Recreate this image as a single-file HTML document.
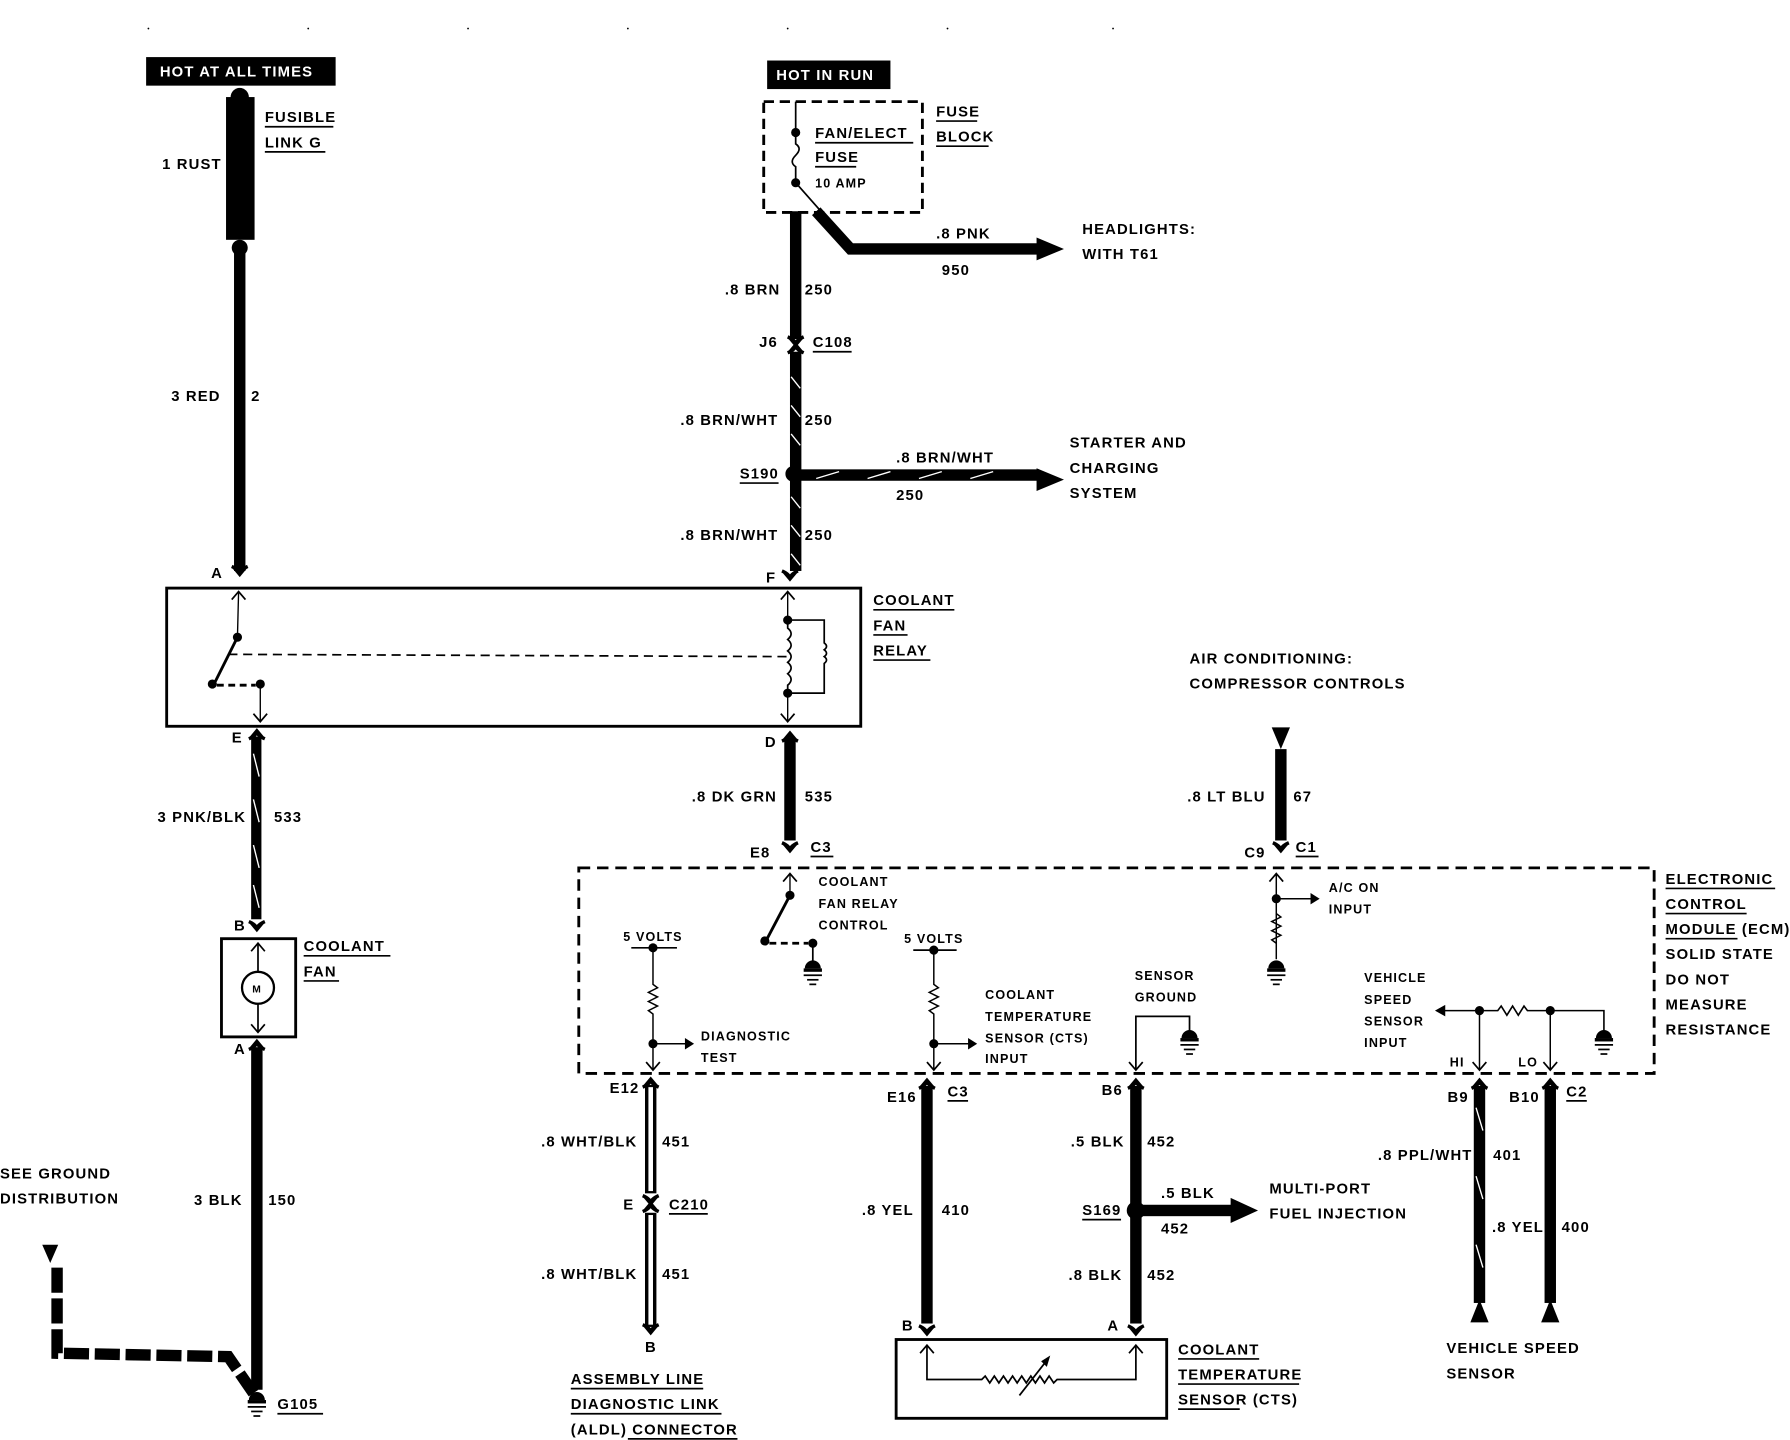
<!DOCTYPE html>
<html><head><meta charset="utf-8"><style>
html,body{margin:0;padding:0;background:#fff;}
svg{display:block;}
text{font-family:"Liberation Sans Narrow","Liberation Sans",sans-serif;font-weight:bold;font-size:13px;fill:#000;letter-spacing:1px;}
.s{font-size:11px;}
</style></head><body>
<svg width="1790" height="1440" viewBox="0 0 1568 1261" preserveAspectRatio="none" xmlns="http://www.w3.org/2000/svg">
<defs>
<g id="conn"><path d="M-7,-7 Q0,-4 0,0 Q0,-4 7,-7" fill="none" stroke="#000" stroke-width="3"/><path d="M-5,-6 L0,0 L5,-6" fill="none" stroke="#000" stroke-width="3"/></g>
<g id="connU"><path d="M-7,7 Q0,4 0,0 Q0,4 7,7" fill="none" stroke="#000" stroke-width="3"/><path d="M-5,6 L0,0 L5,6" fill="none" stroke="#000" stroke-width="3"/></g>
<g id="gnd"><path d="M-7,6 A7,7 0 0 1 7,6 Z" fill="#000"/><rect x="-8" y="6" width="16" height="3" fill="#000"/><line x1="-8" y1="12" x2="8" y2="12" stroke="#000" stroke-width="1.5"/><line x1="-5" y1="16" x2="5" y2="16" stroke="#000" stroke-width="1.5"/><line x1="-3" y1="20" x2="3" y2="20" stroke="#000" stroke-width="1.5"/></g>
<g id="arrU"><path d="M-6,7 L0,0 L6,7" fill="none" stroke="#000" stroke-width="1.5"/></g>
<g id="arrD"><path d="M-6,-7 L0,0 L6,-7" fill="none" stroke="#000" stroke-width="1.5"/></g>
</defs>
<g fill="#000"><circle cx="130" cy="25" r="0.8"/><circle cx="270" cy="25" r="0.8"/><circle cx="410" cy="25" r="0.8"/><circle cx="550" cy="25" r="0.8"/><circle cx="690" cy="25" r="0.8"/><circle cx="830" cy="25" r="0.8"/><circle cx="975" cy="25" r="0.8"/></g>

<!-- HOT AT ALL TIMES -->
<rect x="128" y="50" width="166" height="25" fill="#000"/>
<text x="140" y="67" style="fill:#fff">HOT AT ALL TIMES</text>
<rect x="198" y="85" width="25" height="125" fill="#000"/>
<circle cx="210" cy="85" r="8" fill="#000"/>
<circle cx="210" cy="217" r="7" fill="#000"/>
<text x="232" y="107">FUSIBLE</text><line x1="232" y1="111" x2="292" y2="111" stroke="#000" stroke-width="1.5"/>
<text x="232" y="129">LINK G</text><line x1="232" y1="133" x2="285" y2="133" stroke="#000" stroke-width="1.5"/>
<text x="142" y="148">1 RUST</text>
<rect x="205" y="220" width="10" height="280" fill="#000"/>
<text x="150" y="351">3 RED</text><text x="220" y="351">2</text>
<use href="#conn" x="210" y="503"/><text x="185" y="506">A</text>

<!-- HOT IN RUN -->
<rect x="672" y="53" width="108" height="25" fill="#000"/>
<text x="680" y="70" style="fill:#fff">HOT IN RUN</text>
<rect x="669" y="89" width="139" height="97" fill="none" stroke="#000" stroke-width="2.5" stroke-dasharray="9,5"/>
<line x1="697" y1="89" x2="697" y2="116" stroke="#000" stroke-width="1.5"/>
<circle cx="697" cy="116" r="4" fill="#000"/>
<path d="M697,116 L697,126 Q703,130 697,136 Q691,142 697,146 L697,160" fill="none" stroke="#000" stroke-width="1.5"/>
<circle cx="697" cy="160" r="4" fill="#000"/>
<line x1="697" y1="160" x2="720" y2="186" stroke="#000" stroke-width="1.5"/>
<text x="714" y="121">FAN/ELECT</text><line x1="714" y1="125" x2="800" y2="125" stroke="#000" stroke-width="1.5"/>
<text x="714" y="142">FUSE</text><line x1="714" y1="146" x2="750" y2="146" stroke="#000" stroke-width="1.5"/>
<text x="714" y="164" class="s">10 AMP</text>
<text x="820" y="102">FUSE</text><line x1="820" y1="106" x2="856" y2="106" stroke="#000" stroke-width="1.5"/>
<text x="820" y="124">BLOCK</text><line x1="820" y1="128" x2="866" y2="128" stroke="#000" stroke-width="1.5"/>
<rect x="692" y="185" width="10" height="112" fill="#000"/>
<path d="M715,185 L745,218 L910,218" fill="none" stroke="#000" stroke-width="10"/>
<path d="M908,208 L932,218 L908,228 Z" fill="#000"/>
<text x="820" y="209">.8 PNK</text><text x="825" y="241">950</text>
<text x="948" y="205">HEADLIGHTS:</text><text x="948" y="227">WITH T61</text>
<text x="635" y="258">.8 BRN</text><text x="705" y="258">250</text>
<use href="#conn" x="697" y="302"/><use href="#connU" x="697" y="302"/>
<text x="665" y="304">J6</text><text x="712" y="304">C108</text><line x1="712" y1="308" x2="746" y2="308" stroke="#000" stroke-width="1.5"/>
<rect x="692" y="308" width="10" height="192" fill="#000"/>
<g stroke="#fff" stroke-width="1.2"><line x1="693" y1="330" x2="701" y2="340"/><line x1="693" y1="355" x2="701" y2="365"/><line x1="693" y1="380" x2="701" y2="390"/><line x1="693" y1="435" x2="701" y2="445"/><line x1="693" y1="460" x2="701" y2="470"/><line x1="693" y1="485" x2="701" y2="495"/></g>
<text x="596" y="372">.8 BRN/WHT</text><text x="705" y="372">250</text>
<circle cx="695" cy="415" r="7" fill="#000"/>
<text x="648" y="419">S190</text><line x1="648" y1="423" x2="682" y2="423" stroke="#000" stroke-width="1.5"/>
<rect x="700" y="411" width="210" height="10" fill="#000"/>
<path d="M908,410 L932,420 L908,430 Z" fill="#000"/>
<g stroke="#fff" stroke-width="1.2"><line x1="715" y1="419" x2="735" y2="413"/><line x1="760" y1="419" x2="780" y2="413"/><line x1="805" y1="419" x2="825" y2="413"/><line x1="850" y1="419" x2="870" y2="413"/></g>
<text x="785" y="405">.8 BRN/WHT</text><text x="785" y="438">250</text>
<text x="937" y="392">STARTER AND</text><text x="937" y="414">CHARGING</text><text x="937" y="436">SYSTEM</text>
<text x="596" y="473">.8 BRN/WHT</text><text x="705" y="473">250</text>
<use href="#conn" x="692" y="507"/><text x="671" y="510">F</text>

<!-- RELAY -->
<rect x="146" y="515" width="608" height="121" fill="none" stroke="#000" stroke-width="2.5"/>
<line x1="209" y1="518" x2="208" y2="558" stroke="#000" stroke-width="1.2"/><use href="#arrU" x="209" y="518"/>
<circle cx="208" cy="558" r="4" fill="#000"/>
<line x1="208" y1="558" x2="188" y2="598" stroke="#000" stroke-width="2.5"/>
<circle cx="186" cy="599" r="4" fill="#000"/>
<line x1="190" y1="600" x2="224" y2="600" stroke="#000" stroke-width="2.5" stroke-dasharray="6,4"/>
<circle cx="228" cy="599" r="4" fill="#000"/>
<line x1="228" y1="599" x2="228" y2="632" stroke="#000" stroke-width="1.2"/><use href="#arrD" x="228" y="632"/>
<line x1="200" y1="573" x2="690" y2="575" stroke="#000" stroke-width="1.5" stroke-dasharray="8,5"/>
<line x1="690" y1="518" x2="690" y2="543" stroke="#000" stroke-width="1.2"/><use href="#arrU" x="690" y="518"/>
<circle cx="690" cy="543" r="4" fill="#000"/>
<path d="M690,543 L690,550 q6,5 0,10 q6,5 0,10 q6,5 0,10 q6,5 0,10 q6,5 0,10 L690,607" fill="none" stroke="#000" stroke-width="1.5"/>
<circle cx="690" cy="607" r="4" fill="#000"/>
<line x1="690" y1="607" x2="690" y2="632" stroke="#000" stroke-width="1.2"/><use href="#arrD" x="690" y="632"/>
<path d="M690,543 L722,543 L722,563 q4,3 0,6 q4,3 0,6 q4,3 0,6 L722,607 L690,607" fill="none" stroke="#000" stroke-width="1.5"/>
<text x="765" y="530">COOLANT</text><line x1="765" y1="534" x2="836" y2="534" stroke="#000" stroke-width="1.5"/>
<text x="765" y="552">FAN</text><line x1="765" y1="556" x2="795" y2="556" stroke="#000" stroke-width="1.5"/>
<text x="765" y="574">RELAY</text><line x1="765" y1="578" x2="815" y2="578" stroke="#000" stroke-width="1.5"/>

<!-- left lower -->
<use href="#connU" x="225" y="640"/><text x="203" y="650">E</text>
<rect x="220" y="645" width="9" height="160" fill="#000"/>
<g stroke="#fff" stroke-width="1.2"><line x1="222" y1="660" x2="227" y2="680"/><line x1="222" y1="700" x2="227" y2="720"/><line x1="222" y1="740" x2="227" y2="760"/><line x1="222" y1="775" x2="227" y2="795"/></g>
<text x="138" y="720">3 PNK/BLK</text><text x="240" y="720">533</text>
<use href="#conn" x="225" y="814"/><text x="205" y="815">B</text>
<rect x="194" y="822" width="65" height="86" fill="none" stroke="#000" stroke-width="2.5"/>
<line x1="226" y1="826" x2="226" y2="904" stroke="#000" stroke-width="1.5"/>
<use href="#arrU" x="226" y="826"/><use href="#arrD" x="226" y="904"/>
<circle cx="226" cy="865" r="14" fill="#fff" stroke="#000" stroke-width="2"/>
<text x="221" y="869" class="s" style="font-size:9px">M</text>
<text x="266" y="833">COOLANT</text><line x1="266" y1="837" x2="342" y2="837" stroke="#000" stroke-width="1.5"/>
<text x="266" y="855">FAN</text><line x1="266" y1="859" x2="297" y2="859" stroke="#000" stroke-width="1.5"/>
<use href="#connU" x="225" y="912"/><text x="205" y="923">A</text>
<rect x="220" y="917" width="10" height="300" fill="#000"/>
<text x="170" y="1055">3 BLK</text><text x="235" y="1055">150</text>
<use href="#gnd" x="225" y="1220"/>
<text x="243" y="1234">G105</text><line x1="243" y1="1238" x2="283" y2="1238" stroke="#000" stroke-width="1.5"/>
<text x="0" y="1032">SEE GROUND</text><text x="0" y="1054">DISTRIBUTION</text>
<path d="M37,1090 L51,1090 L44,1106 Z" fill="#000"/>
<path d="M50,1110 L50,1185 L200,1188 L222,1220" fill="none" stroke="#000" stroke-width="10" stroke-dasharray="22,5"/>

<!-- DK GRN -->
<use href="#connU" x="692" y="642"/><text x="670" y="654">D</text>
<rect x="687" y="646" width="10" height="90" fill="#000"/>
<text x="606" y="702">.8 DK GRN</text><text x="705" y="702">535</text>
<use href="#conn" x="692" y="745"/><text x="657" y="751">E8</text>
<text x="710" y="746">C3</text><line x1="710" y1="750" x2="730" y2="750" stroke="#000" stroke-width="1.5"/>

<!-- AC -->
<text x="1042" y="581">AIR CONDITIONING:</text><text x="1042" y="603">COMPRESSOR CONTROLS</text>
<path d="M1114,637 L1130,637 L1122,656 Z" fill="#000"/>
<rect x="1117" y="656" width="10" height="80" fill="#000"/>
<text x="1040" y="702">.8 LT BLU</text><text x="1133" y="702">67</text>
<use href="#conn" x="1122" y="745"/><text x="1090" y="751">C9</text>
<text x="1135" y="746">C1</text><line x1="1135" y1="750" x2="1155" y2="750" stroke="#000" stroke-width="1.5"/>

<!-- ECM -->
<rect x="507" y="760" width="942" height="180" fill="none" stroke="#000" stroke-width="2.5" stroke-dasharray="10,6"/>
<text x="1459" y="774">ELECTRONIC</text><line x1="1459" y1="778" x2="1555" y2="778" stroke="#000" stroke-width="1.5"/>
<text x="1459" y="796">CONTROL</text><line x1="1459" y1="800" x2="1530" y2="800" stroke="#000" stroke-width="1.5"/>
<text x="1459" y="818">MODULE (ECM)</text><line x1="1459" y1="822" x2="1522" y2="822" stroke="#000" stroke-width="1.5"/>
<text x="1459" y="840">SOLID STATE</text><text x="1459" y="862">DO NOT</text><text x="1459" y="884">MEASURE</text><text x="1459" y="906">RESISTANCE</text>

<!-- fan relay control -->
<line x1="692" y1="765" x2="692" y2="784" stroke="#000" stroke-width="1.2"/><use href="#arrU" x="692" y="765"/>
<circle cx="692" cy="784" r="4" fill="#000"/>
<line x1="692" y1="784" x2="672" y2="822" stroke="#000" stroke-width="2.5"/>
<circle cx="670" cy="824" r="4" fill="#000"/>
<line x1="674" y1="826" x2="708" y2="826" stroke="#000" stroke-width="2.5" stroke-dasharray="6,4"/>
<circle cx="712" cy="826" r="4" fill="#000"/>
<line x1="712" y1="826" x2="712" y2="842" stroke="#000" stroke-width="1.5"/>
<use href="#gnd" x="712" y="842"/>
<text x="717" y="776" class="s">COOLANT</text><text x="717" y="795" class="s">FAN RELAY</text><text x="717" y="814" class="s">CONTROL</text>

<!-- diag -->
<text x="546" y="824" class="s">5 VOLTS</text>
<line x1="553" y1="830" x2="593" y2="830" stroke="#000" stroke-width="1.5"/><circle cx="572" cy="830" r="4" fill="#000"/>
<path d="M572,830 L572,862 l4,3 l-8,4 l8,4 l-8,4 l8,4 l-8,4 l4,3 L572,936" fill="none" stroke="#000" stroke-width="1.3"/>
<circle cx="572" cy="914" r="4" fill="#000"/>
<line x1="572" y1="914" x2="603" y2="914" stroke="#000" stroke-width="1.3"/><path d="M600,909 L608,914 L600,919 Z" fill="#000"/>
<use href="#arrD" x="572" y="937"/>
<text x="614" y="911" class="s">DIAGNOSTIC</text><text x="614" y="930" class="s">TEST</text>

<!-- cts in -->
<text x="792" y="826" class="s">5 VOLTS</text>
<line x1="800" y1="832" x2="838" y2="832" stroke="#000" stroke-width="1.5"/><circle cx="818" cy="832" r="4" fill="#000"/>
<path d="M818,832 L818,862 l4,3 l-8,4 l8,4 l-8,4 l8,4 l-8,4 l4,3 L818,936" fill="none" stroke="#000" stroke-width="1.3"/>
<circle cx="818" cy="914" r="4" fill="#000"/>
<line x1="818" y1="914" x2="850" y2="914" stroke="#000" stroke-width="1.3"/><path d="M848,909 L856,914 L848,919 Z" fill="#000"/>
<use href="#arrD" x="818" y="937"/>
<text x="863" y="875" class="s">COOLANT</text><text x="863" y="894" class="s">TEMPERATURE</text><text x="863" y="913" class="s">SENSOR (CTS)</text><text x="863" y="931" class="s">INPUT</text>

<!-- sensor ground -->
<text x="994" y="858" class="s">SENSOR</text><text x="994" y="877" class="s">GROUND</text>
<path d="M995,937 L995,890 L1042,890 L1042,903" fill="none" stroke="#000" stroke-width="1.5"/>
<use href="#arrD" x="995" y="937"/>
<use href="#gnd" x="1042" y="903"/>

<!-- AC on -->
<line x1="1118" y1="765" x2="1118" y2="840" stroke="#000" stroke-width="1.3"/><use href="#arrU" x="1118" y="765"/>
<circle cx="1118" cy="787" r="4" fill="#000"/>
<line x1="1118" y1="787" x2="1150" y2="787" stroke="#000" stroke-width="1.3"/><path d="M1148,782 L1156,787 L1148,792 Z" fill="#000"/>
<path d="M1118,800 l4,3 l-8,4 l8,4 l-8,4 l8,4 l-8,4 l4,3" fill="none" stroke="#000" stroke-width="1.3"/>
<use href="#gnd" x="1118" y="842"/>
<text x="1164" y="781" class="s">A/C ON</text><text x="1164" y="800" class="s">INPUT</text>

<!-- VSS input -->
<text x="1195" y="860" class="s">VEHICLE</text><text x="1195" y="879" class="s">SPEED</text><text x="1195" y="898" class="s">SENSOR</text><text x="1195" y="917" class="s">INPUT</text>
<path d="M1265,885 L1312,885 l3,-4 l5,8 l5,-8 l5,8 l5,-8 l3,4 L1405,885 L1405,903" fill="none" stroke="#000" stroke-width="1.4"/>
<path d="M1266,880 L1257,885 L1266,890 Z" fill="#000"/>
<circle cx="1296" cy="885" r="4" fill="#000"/><circle cx="1358" cy="885" r="4" fill="#000"/>
<line x1="1296" y1="885" x2="1296" y2="937" stroke="#000" stroke-width="1.3"/><use href="#arrD" x="1296" y="937"/>
<line x1="1358" y1="885" x2="1358" y2="937" stroke="#000" stroke-width="1.3"/><use href="#arrD" x="1358" y="937"/>
<use href="#gnd" x="1405" y="903"/>
<text x="1270" y="934" class="s">HI</text><text x="1330" y="934" class="s">LO</text>

<!-- bottom ALDL -->
<use href="#connU" x="570" y="945"/><text x="534" y="957">E12</text>
<rect x="565" y="950" width="10" height="95" fill="#000"/><rect x="568" y="952" width="4" height="91" fill="#fff"/>
<text x="474" y="1004">.8 WHT/BLK</text><text x="580" y="1004">451</text>
<use href="#conn" x="570" y="1054"/><use href="#connU" x="570" y="1054"/>
<text x="546" y="1059">E</text><text x="586" y="1059">C210</text><line x1="586" y1="1063" x2="620" y2="1063" stroke="#000" stroke-width="1.5"/>
<rect x="565" y="1062" width="10" height="100" fill="#000"/><rect x="568" y="1064" width="4" height="96" fill="#fff"/>
<text x="474" y="1120">.8 WHT/BLK</text><text x="580" y="1120">451</text>
<use href="#conn" x="570" y="1167"/><text x="565" y="1184">B</text>
<text x="500" y="1212">ASSEMBLY LINE</text><line x1="500" y1="1216" x2="616" y2="1216" stroke="#000" stroke-width="1.5"/>
<text x="500" y="1234">DIAGNOSTIC LINK</text><line x1="500" y1="1238" x2="632" y2="1238" stroke="#000" stroke-width="1.5"/>
<text x="500" y="1256">(ALDL) CONNECTOR</text><line x1="550" y1="1260" x2="646" y2="1260" stroke="#000" stroke-width="1.5"/>

<!-- CTS wire -->
<use href="#connU" x="812" y="946"/><text x="777" y="965">E16</text>
<text x="830" y="960">C3</text><line x1="830" y1="964" x2="848" y2="964" stroke="#000" stroke-width="1.5"/>
<rect x="807" y="951" width="10" height="208" fill="#000"/>
<text x="755" y="1064">.8 YEL</text><text x="825" y="1064">410</text>
<use href="#conn" x="812" y="1168"/><text x="790" y="1165">B</text>

<use href="#connU" x="995" y="946"/><text x="965" y="959">B6</text>
<rect x="990" y="951" width="10" height="208" fill="#000"/>
<text x="938" y="1004">.5 BLK</text><text x="1005" y="1004">452</text>
<circle cx="995" cy="1060" r="8" fill="#000"/>
<text x="948" y="1064">S169</text><line x1="948" y1="1068" x2="982" y2="1068" stroke="#000" stroke-width="1.5"/>
<rect x="1000" y="1055" width="80" height="10" fill="#000"/>
<path d="M1078,1049 L1102,1060 L1078,1071 Z" fill="#000"/>
<text x="1017" y="1049">.5 BLK</text><text x="1017" y="1080">452</text>
<text x="1112" y="1045">MULTI-PORT</text><text x="1112" y="1067">FUEL INJECTION</text>
<text x="936" y="1121">.8 BLK</text><text x="1005" y="1121">452</text>
<use href="#conn" x="995" y="1168"/><text x="970" y="1165">A</text>

<rect x="785" y="1173" width="237" height="69" fill="none" stroke="#000" stroke-width="2.5"/>
<path d="M812,1178 L812,1208 L860,1208 l3,-3 l4,6 l4,-6 l4,6 l4,-6 l4,6 l4,-6 l4,6 l4,-6 l4,6 l4,-6 l4,6 l4,-6 l4,6 l4,-6 l4,6 l3,-3 L995,1208 L995,1178" fill="none" stroke="#000" stroke-width="1.5"/>
<use href="#arrU" x="812" y="1178"/><use href="#arrU" x="995" y="1178"/>
<line x1="893" y1="1222" x2="918" y2="1190" stroke="#000" stroke-width="1.5"/><path d="M912,1192 L920,1187 L917,1197 Z" fill="#000"/>
<text x="1032" y="1186">COOLANT</text><line x1="1032" y1="1190" x2="1103" y2="1190" stroke="#000" stroke-width="1.5"/>
<text x="1032" y="1208">TEMPERATURE</text><line x1="1032" y1="1212" x2="1138" y2="1212" stroke="#000" stroke-width="1.5"/>
<text x="1032" y="1230">SENSOR (CTS)</text><line x1="1032" y1="1234" x2="1086" y2="1234" stroke="#000" stroke-width="1.5"/>

<!-- VSS wires -->
<use href="#connU" x="1296" y="946"/><use href="#connU" x="1358" y="946"/>
<text x="1268" y="965">B9</text><text x="1322" y="965">B10</text>
<text x="1372" y="960">C2</text><line x1="1372" y1="964" x2="1390" y2="964" stroke="#000" stroke-width="1.5"/>
<rect x="1291" y="951" width="10" height="190" fill="#000"/>
<g stroke="#fff" stroke-width="1.2"><line x1="1293" y1="970" x2="1299" y2="990"/><line x1="1293" y1="1030" x2="1299" y2="1050"/><line x1="1293" y1="1090" x2="1299" y2="1110"/></g>
<rect x="1353" y="951" width="10" height="190" fill="#000"/>
<path d="M1288,1158 L1304,1158 L1296,1138 Z" fill="#000"/><path d="M1350,1158 L1366,1158 L1358,1138 Z" fill="#000"/>
<text x="1207" y="1016">.8 PPL/WHT</text><text x="1308" y="1016">401</text>
<text x="1307" y="1079">.8 YEL</text><text x="1368" y="1079">400</text>
<text x="1267" y="1185">VEHICLE SPEED</text><text x="1267" y="1207">SENSOR</text>
</svg>
</body></html>
